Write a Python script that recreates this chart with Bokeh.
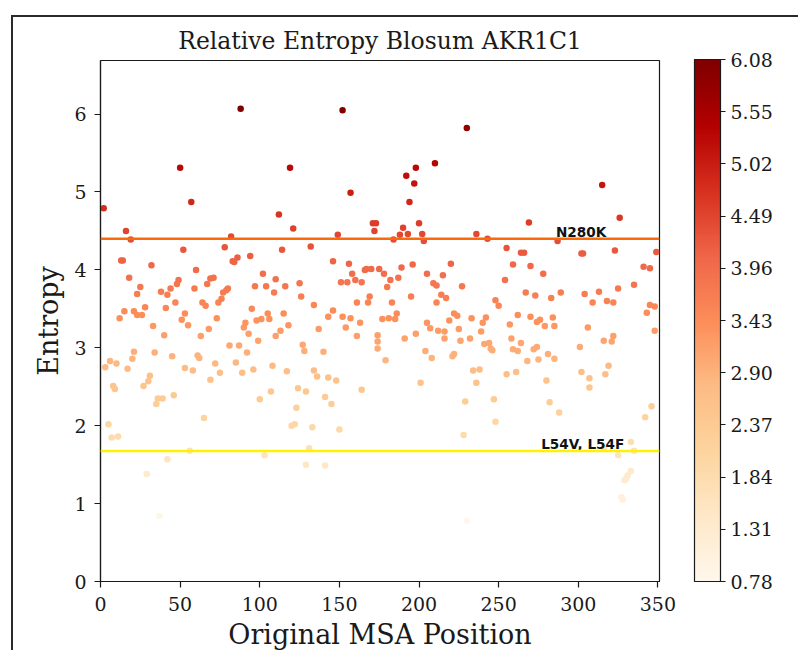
from bokeh.plotting import figure
from bokeh.models import (ColumnDataSource, LinearColorMapper, ColorBar, FixedTicker,
                          PrintfTickFormatter, Span)
from bokeh.transform import transform
from bokeh.core.properties import value
from bokeh.embed import file_html
from bokeh.resources import INLINE

# ---------------- data ----------------
position = [
    2, 88, 152, 230, 50, 57, 119, 157, 198, 192, 197, 194, 210, 121, 171, 173, 172, 190, 188, 193,
    200, 202, 203, 149, 184, 236, 132, 114, 112, 16, 19, 82, 52, 78, 94, 86, 83, 84, 13, 14,
    32, 60, 18, 49, 69, 71, 102, 110, 315, 326, 269, 243, 287, 255, 264, 266, 302, 303, 323, 349,
    259, 270, 278, 341, 345, 254,
    146, 156, 158, 160, 166, 167, 170, 175,
    25, 23, 15, 12, 21, 23, 26, 28,
    33, 40, 38, 41, 42, 44, 47, 48,
    51, 53, 55, 59, 63, 64, 66, 67, 68,
    73, 74, 76, 77, 79, 80, 81, 87, 85,
    90, 91, 93, 95, 97, 98, 101, 99,
    104, 105, 106, 109, 110, 113, 115, 116, 118,
    125, 126, 127, 128, 134, 137, 140,
    143, 146, 151, 155, 152, 154, 157,
    161, 161, 163, 164, 168, 169, 174, 174,
    3, 6, 10, 8, 9, 17, 20, 21,
    27, 30, 31, 34, 36, 39, 45, 46,
    53, 58, 61, 62, 69, 72, 75, 89,
    92, 96, 100, 107, 108, 117, 124, 129,
    134, 136, 141, 143, 148, 164, 174,
    5, 7, 11, 29, 37, 42, 56, 65,
    35, 103, 120, 122, 123, 133, 131, 129,
    141, 145, 150,
    178, 182, 180, 187, 189, 196, 195, 183,
    186, 185, 181, 177,
    205, 209, 211, 215, 220, 214, 217, 211, 227,
    222, 224, 219, 205, 207, 212, 216, 198, 191, 216,
    225, 226, 204, 208, 179, 201, 221, 222,
    233, 232, 239, 240, 242, 241, 244, 245, 246,
    234, 238, 236, 248, 250,
    267, 273, 283, 289, 257, 262, 270,
    274, 276, 279, 284, 285, 258, 264,
    259, 262, 272, 274, 268, 275, 281, 285, 280,
    255, 261,
    304, 309, 313, 318, 322, 325, 335,
    343, 345, 348, 348, 306, 316, 321, 322,
    301, 302, 307, 307, 317, 319,
    229, 228, 230, 247, 248, 282, 288,
    333, 335, 325, 316, 333, 331, 330, 329,
    327, 328, 342, 346,
]
entropy = [
    4.79, 6.07, 6.05, 5.82, 5.31, 4.87, 5.31, 4.99, 5.31, 5.21, 5.11, 4.87, 5.37, 4.53, 4.60, 4.60, 4.50, 4.54, 4.45, 4.46,
    4.60, 4.46, 4.37, 4.45, 4.39, 4.46, 4.30, 4.26, 4.71, 4.50, 4.39, 4.43, 4.26, 4.29, 4.18, 4.16, 4.11, 4.10, 4.12, 4.12,
    4.06, 4.00, 3.90, 3.87, 3.89, 3.90, 3.95, 3.88, 5.09, 4.67, 4.61, 4.40, 4.37, 4.28, 4.22, 4.22, 4.21, 4.21, 4.25, 4.23,
    4.07, 4.05, 3.95, 4.04, 4.02, 3.87,
    4.11, 4.08, 3.95, 3.87, 4.00, 4.01, 4.01, 4.01,
    3.78, 3.69, 3.47, 3.38, 3.47, 3.42, 3.42, 3.52,
    3.28, 3.16, 3.72, 3.51, 3.68, 3.76, 3.58, 3.82,
    3.36, 3.44, 3.29, 3.76, 3.15, 3.58, 3.54, 3.82, 3.24,
    3.38, 3.58, 3.63, 3.71, 3.74, 3.76, 3.03, 3.03, 2.81,
    3.26, 3.32, 3.18, 3.50, 3.79, 3.35, 3.37, 3.09,
    3.79, 3.44, 3.37, 3.71, 3.15, 3.22, 3.44, 3.79, 3.29,
    3.83, 3.66, 3.04, 2.96, 3.55, 3.24, 2.95,
    3.40, 3.48, 3.84, 3.84, 3.40, 3.26, 3.38,
    3.15, 3.58, 3.32, 3.84, 3.58, 3.66, 3.16, 3.08,
    2.75, 2.83, 2.80, 2.51, 2.47, 2.73, 2.86, 2.95,
    2.51, 2.57, 2.64, 2.94, 2.35, 2.35, 2.89, 2.39,
    2.74, 2.71, 2.90, 2.87, 2.59, 2.80, 2.68, 2.68,
    2.94, 2.72, 2.34, 2.44, 2.77, 2.70, 2.48, 2.44,
    2.71, 2.63, 2.37, 2.62, 2.58, 2.46, 2.99,
    2.02, 1.85, 1.86, 1.38, 0.84, 1.57, 1.68, 2.10,
    2.28, 1.62, 2.00, 2.02, 2.23, 1.98, 1.71, 1.50,
    1.49, 2.28, 1.95,
    3.95, 3.87, 3.78, 3.90, 4.03, 4.07, 3.66, 3.58,
    3.44, 3.37, 3.38, 3.37,
    3.95, 3.83, 3.80, 3.93, 4.08, 3.68, 3.64, 3.58, 3.79,
    3.44, 3.41, 3.35, 3.32, 3.25, 3.22, 3.21, 3.18, 3.12, 3.12,
    3.24, 3.09, 2.96, 2.87, 2.84, 2.55, 2.89, 2.92,
    3.38, 3.12, 3.21, 3.32, 3.39, 3.05, 3.06, 2.99, 2.97,
    2.71, 2.72, 2.55, 3.61, 3.54,
    3.71, 3.67, 3.64, 3.71, 3.30, 3.42, 3.40,
    3.33, 3.36, 3.28, 3.39, 3.28, 3.12, 3.06,
    2.98, 2.96, 2.98, 3.01, 2.83, 2.85, 2.92, 2.86, 2.58,
    2.66, 2.69,
    3.69, 3.58, 3.72, 3.60, 3.58, 3.76, 3.81,
    3.45, 3.55, 3.53, 3.22, 3.26, 3.09, 3.08, 3.15,
    3.01, 2.69, 2.61, 2.49, 2.66, 2.77,
    2.31, 1.88, 0.78, 2.34, 2.05, 2.30, 2.17,
    1.79, 1.68, 1.62, 1.71, 1.42, 1.36, 1.32, 1.30,
    1.08, 1.05, 2.11, 2.25,
]

threshold_values = [4.40, 1.675]
threshold_colors = ["#fb6a0a", "#fff200"]
label_texts = ["N280K", "L54V, L54F"]
label_x = [286.0, 276.7]
label_y = [4.39, 1.66]
x_ticks = [0, 50, 100, 150, 200, 250, 300, 350]
y_ticks = [0, 1, 2, 3, 4, 5, 6]
cbar_ticks = [0.78, 1.31, 1.84, 2.37, 2.90, 3.43, 3.96, 4.49, 5.02, 5.55, 6.08]

# OrRd colormap (ColorBrewer anchors, light -> dark) interpolated to 256 steps
orrd_anchors = ["#fff7ec", "#fee8c8", "#fdd49e", "#fdbb84", "#fc8d59",
                "#ef6548", "#d7301f", "#b30000", "#7f0000"]


def build_palette(anchors, n=256):
    rgb = [tuple(int(h[i:i + 2], 16) for i in (1, 3, 5)) for h in anchors]
    out = []
    segs = len(rgb) - 1
    for k in range(n):
        t = k / (n - 1) * segs
        i = min(int(t), segs - 1)
        f = t - i
        c = [round(rgb[i][j] + (rgb[i + 1][j] - rgb[i][j]) * f) for j in range(3)]
        out.append("#%02x%02x%02x" % tuple(c))
    return out


palette = build_palette(orrd_anchors)
mapper = LinearColorMapper(palette=palette, low=min(cbar_ticks), high=max(cbar_ticks))

SERIF = "DejaVu Serif"
INK = "#1a1a1a"

p = figure(width=787, height=635, x_range=(0, 351), y_range=(0, 6.688),
           output_backend="svg", toolbar_location=None,
           min_border_left=87, min_border_top=43, min_border_right=141, min_border_bottom=70,
           title="Relative Entropy Blosum AKR1C1")
# outer figure frame: only its left and top edges fall inside the window
p.margin = (15, 0, 0, 11)
p.styles = {"border-left": "2px solid #2a2a2a", "border-top": "2px solid #2a2a2a"}

p.title.text_font = SERIF
p.title.text_font_size = "23.5px"
p.title.text_font_style = "normal"
p.title.align = "center"
p.title.text_color = INK
p.title.standoff = 12

p.grid.visible = False
p.outline_line_color = INK
p.outline_line_width = 1.2
p.outline_line_alpha = 1.0
p.background_fill_color = "white"
p.border_fill_color = "white"

p.xaxis.ticker = FixedTicker(ticks=x_ticks)
p.yaxis.ticker = FixedTicker(ticks=y_ticks)
p.xaxis.axis_label = "Original MSA Position"
p.yaxis.axis_label = "Entropy"
for ax in (p.xaxis[0], p.yaxis[0]):
    ax.axis_line_color = INK
    ax.axis_line_width = 1.2
    ax.major_tick_line_color = INK
    ax.major_tick_line_width = 1.2
    ax.major_tick_out = 6
    ax.major_tick_in = 0
    ax.minor_tick_out = 0
    ax.minor_tick_in = 0
    ax.major_label_text_font = SERIF
    ax.major_label_text_font_size = "19px"
    ax.major_label_text_color = INK
    ax.axis_label_text_font = SERIF
    ax.axis_label_text_font_size = "27px"
    ax.axis_label_text_font_style = "normal"
    ax.axis_label_text_color = INK
p.xaxis.major_label_standoff = 9
p.xaxis.axis_label_standoff = 5
p.yaxis.major_label_standoff = 8
p.yaxis.axis_label_standoff = 7

src = ColumnDataSource(dict(pos=position, ent=entropy))
p.scatter("pos", "ent", source=src, size=6.5,
          fill_color=transform("ent", mapper), line_color=None)

for v, c in zip(threshold_values, threshold_colors):
    p.add_layout(Span(location=v, dimension="width", line_color=c, line_width=2.5))

lab_src = ColumnDataSource(dict(x=label_x, y=label_y, t=label_texts))
p.text("x", "y", text="t", source=lab_src, text_font=value("DejaVu Sans"),
       text_font_style="bold", text_font_size="13.6px", text_color="#111111",
       text_align="left", text_baseline="bottom")

cb = ColorBar(color_mapper=mapper, ticker=FixedTicker(ticks=cbar_ticks),
              formatter=PrintfTickFormatter(format="%.2f"),
              width=26, height=522, padding=0, margin=0, location=(35, 0),
              major_tick_in=0, major_tick_out=5, major_tick_line_color=INK,
              bar_line_color=INK, bar_line_width=1.2,
              major_label_text_font=SERIF, major_label_text_font_size="19px",
              major_label_text_color=INK, label_standoff=5,
              background_fill_alpha=0, border_line_color=None)
p.add_layout(cb, "right")

open("out.html", "w").write(file_html(p, INLINE))
